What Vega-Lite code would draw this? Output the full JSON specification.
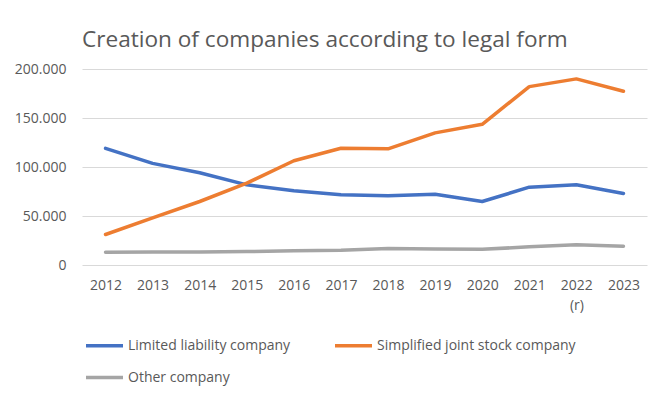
{
  "$schema": "https://vega.github.io/schema/vega-lite/v6.json",
  "autosize": "none",
  "width": 565,
  "height": 196,
  "padding": {"left": 82, "top": 69, "right": 19, "bottom": 135},
  "background": "white",
  "config": {
    "locale": {"number": {"decimal": ",", "thousands": ".", "grouping": [3], "currency": ["", " €"]}},
    "font": "Open Sans",
    "view": {"stroke": null}
  },
  "title": {
    "text": "Creation of companies according to legal form",
    "anchor": "start",
    "frame": "group",
    "fontSize": 22.6,
    "fontWeight": "normal",
    "color": "#595959",
    "offset": 10
  },
  "data": {
    "values": [
      {"year": "2012", "form": "Limited liability company", "n": 119000},
      {"year": "2013", "form": "Limited liability company", "n": 103700},
      {"year": "2014", "form": "Limited liability company", "n": 94200},
      {"year": "2015", "form": "Limited liability company", "n": 81800},
      {"year": "2016", "form": "Limited liability company", "n": 75700},
      {"year": "2017", "form": "Limited liability company", "n": 71600},
      {"year": "2018", "form": "Limited liability company", "n": 70600},
      {"year": "2019", "form": "Limited liability company", "n": 72300},
      {"year": "2020", "form": "Limited liability company", "n": 64800},
      {"year": "2021", "form": "Limited liability company", "n": 79400},
      {"year": "2022 (r)", "form": "Limited liability company", "n": 81800},
      {"year": "2023", "form": "Limited liability company", "n": 73000},
      {"year": "2012", "form": "Simplified joint stock company", "n": 31100},
      {"year": "2013", "form": "Simplified joint stock company", "n": 48000},
      {"year": "2014", "form": "Simplified joint stock company", "n": 64800},
      {"year": "2015", "form": "Simplified joint stock company", "n": 83500},
      {"year": "2016", "form": "Simplified joint stock company", "n": 106400},
      {"year": "2017", "form": "Simplified joint stock company", "n": 119200},
      {"year": "2018", "form": "Simplified joint stock company", "n": 118500},
      {"year": "2019", "form": "Simplified joint stock company", "n": 134800},
      {"year": "2020", "form": "Simplified joint stock company", "n": 143600},
      {"year": "2021", "form": "Simplified joint stock company", "n": 182000},
      {"year": "2022 (r)", "form": "Simplified joint stock company", "n": 189900},
      {"year": "2023", "form": "Simplified joint stock company", "n": 177300},
      {"year": "2012", "form": "Other company", "n": 12900},
      {"year": "2013", "form": "Other company", "n": 13200},
      {"year": "2014", "form": "Other company", "n": 13300},
      {"year": "2015", "form": "Other company", "n": 13700},
      {"year": "2016", "form": "Other company", "n": 14600},
      {"year": "2017", "form": "Other company", "n": 15000},
      {"year": "2018", "form": "Other company", "n": 16900},
      {"year": "2019", "form": "Other company", "n": 16400},
      {"year": "2020", "form": "Other company", "n": 16000},
      {"year": "2021", "form": "Other company", "n": 18500},
      {"year": "2022 (r)", "form": "Other company", "n": 20600},
      {"year": "2023", "form": "Other company", "n": 19100}
    ]
  },
  "mark": {"type": "line", "strokeWidth": 3.5, "strokeCap": "round", "strokeJoin": "round"},
  "encoding": {
    "x": {
      "field": "year",
      "type": "ordinal",
      "title": null,
      "scale": {"type": "point", "padding": 0.5},
      "axis": {
        "labelAngle": 0,
        "domain": false,
        "ticks": false,
        "labelPadding": 13,
        "labelFontSize": 14,
        "labelColor": "#595959",
        "labelExpr": "split(datum.label, ' ')",
        "labelLineHeight": 20
      }
    },
    "y": {
      "field": "n",
      "type": "quantitative",
      "title": null,
      "scale": {"domain": [0, 200000]},
      "axis": {
        "values": [0, 50000, 100000, 150000, 200000],
        "format": ",d",
        "domain": false,
        "ticks": false,
        "labelPadding": 16,
        "labelFontSize": 14,
        "labelColor": "#595959",
        "gridColor": "#d9d9d9",
        "gridWidth": 1
      }
    },
    "color": {
      "field": "form",
      "type": "nominal",
      "scale": {
        "domain": ["Limited liability company", "Simplified joint stock company", "Other company"],
        "range": ["#4472C4", "#ED7D31", "#A5A5A5"]
      },
      "legend": {
        "title": null,
        "orient": "none",
        "legendX": 2,
        "legendY": 256,
        "direction": "horizontal",
        "columns": 2,
        "symbolType": "stroke",
        "symbolSize": 1369,
        "symbolStrokeWidth": 3.5,
        "labelFontSize": 14,
        "labelLimit": 400,
        "labelColor": "#595959",
        "labelOffset": 3,
        "columnPadding": 37,
        "rowPadding": 4
      }
    }
  }
}
